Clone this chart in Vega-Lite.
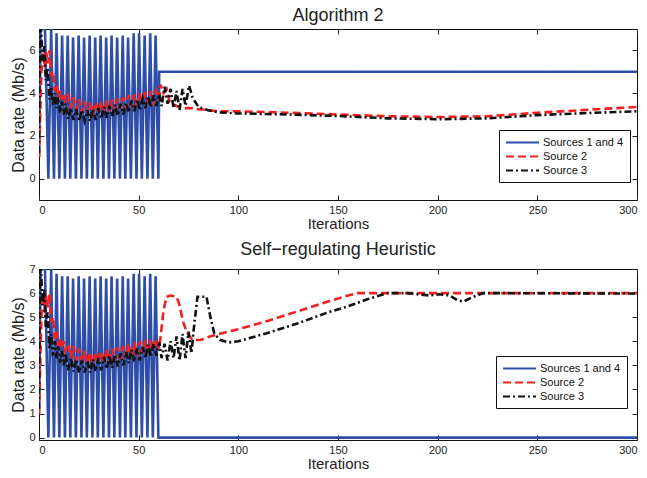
{
"$schema": "https://vega.github.io/schema/vega-lite/v6.json",
"background": "white",
"padding": {"left": 10, "top": 6, "right": 5, "bottom": 5},
"spacing": 8,
"resolve": {"legend": {"color": "independent", "strokeDash": "independent"}},
"config": {
  "view": {"stroke": "#111", "strokeWidth": 1},
  "font": "Liberation Sans",
  "axis": {"labelFont": "Liberation Sans", "titleFont": "Liberation Sans", "labelFontSize": 11, "titleFontSize": 15, "titleFontWeight": "normal", "labelColor": "#222", "titleColor": "#222", "tickColor": "#222", "grid": false}
},
"datasets": {
"top": [
{"s":"Sources 1 and 4","x":0,"y":1.0},{"s":"Sources 1 and 4","x":0.8,"y":7.0},{"s":"Sources 1 and 4","x":3.0,"y":7.0},{"s":"Sources 1 and 4","x":4.7,"y":0},{"s":"Sources 1 and 4","x":6.1,"y":7.0},{"s":"Sources 1 and 4","x":7.5,"y":0},{"s":"Sources 1 and 4","x":8.8,"y":6.8},{"s":"Sources 1 and 4","x":10.2,"y":0},{"s":"Sources 1 and 4","x":11.6,"y":6.7},{"s":"Sources 1 and 4","x":13.0,"y":0},{"s":"Sources 1 and 4","x":14.4,"y":6.7},{"s":"Sources 1 and 4","x":15.7,"y":0},{"s":"Sources 1 and 4","x":17.1,"y":6.6},{"s":"Sources 1 and 4","x":18.5,"y":0},{"s":"Sources 1 and 4","x":19.9,"y":6.7},{"s":"Sources 1 and 4","x":21.3,"y":0},{"s":"Sources 1 and 4","x":22.6,"y":6.6},{"s":"Sources 1 and 4","x":24.0,"y":0},{"s":"Sources 1 and 4","x":25.4,"y":6.7},{"s":"Sources 1 and 4","x":26.8,"y":0},{"s":"Sources 1 and 4","x":28.2,"y":6.6},{"s":"Sources 1 and 4","x":29.5,"y":0},{"s":"Sources 1 and 4","x":30.9,"y":6.7},{"s":"Sources 1 and 4","x":32.3,"y":0},{"s":"Sources 1 and 4","x":33.7,"y":6.6},{"s":"Sources 1 and 4","x":35.1,"y":0},{"s":"Sources 1 and 4","x":36.4,"y":6.7},{"s":"Sources 1 and 4","x":37.8,"y":0},{"s":"Sources 1 and 4","x":39.2,"y":6.6},{"s":"Sources 1 and 4","x":40.6,"y":0},{"s":"Sources 1 and 4","x":42.0,"y":6.7},{"s":"Sources 1 and 4","x":43.3,"y":0},{"s":"Sources 1 and 4","x":44.7,"y":6.6},{"s":"Sources 1 and 4","x":46.1,"y":0},{"s":"Sources 1 and 4","x":47.5,"y":6.8},{"s":"Sources 1 and 4","x":48.9,"y":0},{"s":"Sources 1 and 4","x":50.2,"y":6.8},{"s":"Sources 1 and 4","x":51.6,"y":0},{"s":"Sources 1 and 4","x":53.0,"y":6.7},{"s":"Sources 1 and 4","x":54.4,"y":0},{"s":"Sources 1 and 4","x":55.8,"y":6.8},{"s":"Sources 1 and 4","x":57.1,"y":0},{"s":"Sources 1 and 4","x":58.5,"y":6.7},{"s":"Sources 1 and 4","x":59.9,"y":0},{"s":"Sources 1 and 4","x":60.3,"y":5.0},{"s":"Sources 1 and 4","x":300,"y":5.0},
{"s":"Source 2","x":0,"y":1.0},{"s":"Source 2","x":0.6,"y":3.0},{"s":"Source 2","x":1.2,"y":5.0},{"s":"Source 2","x":2.0,"y":5.9},{"s":"Source 2","x":2.8,"y":5.2},{"s":"Source 2","x":3.6,"y":5.9},{"s":"Source 2","x":4.5,"y":5.4},{"s":"Source 2","x":5.3,"y":6.0},{"s":"Source 2","x":6.2,"y":4.8},{"s":"Source 2","x":7.0,"y":5.0},{"s":"Source 2","x":7.9,"y":4.1},{"s":"Source 2","x":8.8,"y":4.4},{"s":"Source 2","x":9.7,"y":3.8},{"s":"Source 2","x":10.5,"y":4.1},{"s":"Source 2","x":11.4,"y":3.7},{"s":"Source 2","x":12.3,"y":4.0},{"s":"Source 2","x":13.2,"y":3.6},{"s":"Source 2","x":14.6,"y":3.9},{"s":"Source 2","x":16.0,"y":3.3},{"s":"Source 2","x":17.3,"y":3.8},{"s":"Source 2","x":18.7,"y":3.2},{"s":"Source 2","x":20.1,"y":3.7},{"s":"Source 2","x":21.5,"y":3.1},{"s":"Source 2","x":22.9,"y":3.6},{"s":"Source 2","x":24.3,"y":3.05},{"s":"Source 2","x":25.6,"y":3.55},{"s":"Source 2","x":27.0,"y":3.05},{"s":"Source 2","x":28.4,"y":3.55},{"s":"Source 2","x":29.8,"y":3.1},{"s":"Source 2","x":31.2,"y":3.6},{"s":"Source 2","x":32.6,"y":3.1},{"s":"Source 2","x":34.0,"y":3.65},{"s":"Source 2","x":35.3,"y":3.15},{"s":"Source 2","x":36.7,"y":3.7},{"s":"Source 2","x":38.1,"y":3.2},{"s":"Source 2","x":39.5,"y":3.75},{"s":"Source 2","x":40.9,"y":3.25},{"s":"Source 2","x":42.3,"y":3.8},{"s":"Source 2","x":43.7,"y":3.3},{"s":"Source 2","x":45.0,"y":3.9},{"s":"Source 2","x":46.4,"y":3.35},{"s":"Source 2","x":47.8,"y":3.95},{"s":"Source 2","x":49.2,"y":3.4},{"s":"Source 2","x":50.6,"y":4.0},{"s":"Source 2","x":52.0,"y":3.5},{"s":"Source 2","x":53.4,"y":4.05},{"s":"Source 2","x":54.7,"y":3.55},{"s":"Source 2","x":56.1,"y":4.1},{"s":"Source 2","x":57.5,"y":3.6},{"s":"Source 2","x":58.9,"y":4.1},{"s":"Source 2","x":60.3,"y":3.7},{"s":"Source 2","x":61.0,"y":4.4},{"s":"Source 2","x":62.5,"y":4.0},{"s":"Source 2","x":64,"y":4.2},{"s":"Source 2","x":65.5,"y":3.6},{"s":"Source 2","x":67,"y":3.5},{"s":"Source 2","x":69,"y":3.4},{"s":"Source 2","x":72,"y":3.3},{"s":"Source 2","x":76,"y":3.3},{"s":"Source 2","x":80,"y":3.25},{"s":"Source 2","x":90,"y":3.15},{"s":"Source 2","x":100,"y":3.15},{"s":"Source 2","x":120,"y":3.1},{"s":"Source 2","x":150,"y":3.0},{"s":"Source 2","x":175,"y":2.92},{"s":"Source 2","x":200,"y":2.88},{"s":"Source 2","x":225,"y":2.92},{"s":"Source 2","x":250,"y":3.08},{"s":"Source 2","x":275,"y":3.22},{"s":"Source 2","x":300,"y":3.35},
{"s":"Source 3","x":0,"y":1.2},{"s":"Source 3","x":0.4,"y":6.9},{"s":"Source 3","x":1.0,"y":7.0},{"s":"Source 3","x":1.8,"y":5.5},{"s":"Source 3","x":2.6,"y":6.2},{"s":"Source 3","x":3.4,"y":4.6},{"s":"Source 3","x":4.3,"y":5.2},{"s":"Source 3","x":5.2,"y":3.7},{"s":"Source 3","x":6.1,"y":4.3},{"s":"Source 3","x":7.0,"y":3.4},{"s":"Source 3","x":7.9,"y":4.0},{"s":"Source 3","x":8.8,"y":3.3},{"s":"Source 3","x":9.7,"y":3.8},{"s":"Source 3","x":10.6,"y":3.1},{"s":"Source 3","x":11.5,"y":3.6},{"s":"Source 3","x":12.4,"y":3.0},{"s":"Source 3","x":13.3,"y":3.5},{"s":"Source 3","x":14.6,"y":2.8},{"s":"Source 3","x":16.0,"y":3.3},{"s":"Source 3","x":17.3,"y":2.75},{"s":"Source 3","x":18.7,"y":3.25},{"s":"Source 3","x":20.1,"y":2.7},{"s":"Source 3","x":21.5,"y":3.2},{"s":"Source 3","x":22.9,"y":2.7},{"s":"Source 3","x":24.3,"y":3.2},{"s":"Source 3","x":25.6,"y":2.7},{"s":"Source 3","x":27.0,"y":3.25},{"s":"Source 3","x":28.4,"y":2.75},{"s":"Source 3","x":29.8,"y":3.3},{"s":"Source 3","x":31.2,"y":2.8},{"s":"Source 3","x":32.6,"y":3.35},{"s":"Source 3","x":34.0,"y":2.85},{"s":"Source 3","x":35.3,"y":3.4},{"s":"Source 3","x":36.7,"y":2.9},{"s":"Source 3","x":38.1,"y":3.45},{"s":"Source 3","x":39.5,"y":2.95},{"s":"Source 3","x":40.9,"y":3.5},{"s":"Source 3","x":42.3,"y":3.0},{"s":"Source 3","x":43.7,"y":3.55},{"s":"Source 3","x":45.0,"y":3.1},{"s":"Source 3","x":46.4,"y":3.65},{"s":"Source 3","x":47.8,"y":3.15},{"s":"Source 3","x":49.2,"y":3.7},{"s":"Source 3","x":50.6,"y":3.2},{"s":"Source 3","x":52.0,"y":3.75},{"s":"Source 3","x":53.4,"y":3.3},{"s":"Source 3","x":54.7,"y":3.85},{"s":"Source 3","x":56.1,"y":3.35},{"s":"Source 3","x":57.5,"y":3.9},{"s":"Source 3","x":58.9,"y":3.4},{"s":"Source 3","x":60.3,"y":3.95},{"s":"Source 3","x":61.5,"y":3.4},{"s":"Source 3","x":63,"y":4.3},{"s":"Source 3","x":64.5,"y":3.5},{"s":"Source 3","x":66,"y":4.2},{"s":"Source 3","x":67.5,"y":3.3},{"s":"Source 3","x":69,"y":4.1},{"s":"Source 3","x":70.5,"y":3.2},{"s":"Source 3","x":72,"y":4.2},{"s":"Source 3","x":73.5,"y":3.4},{"s":"Source 3","x":75.3,"y":4.35},{"s":"Source 3","x":77,"y":3.8},{"s":"Source 3","x":80,"y":3.35},{"s":"Source 3","x":85,"y":3.2},{"s":"Source 3","x":90,"y":3.1},{"s":"Source 3","x":100,"y":3.05},{"s":"Source 3","x":125,"y":3.0},{"s":"Source 3","x":150,"y":2.93},{"s":"Source 3","x":175,"y":2.82},{"s":"Source 3","x":200,"y":2.78},{"s":"Source 3","x":225,"y":2.82},{"s":"Source 3","x":250,"y":2.97},{"s":"Source 3","x":275,"y":3.07},{"s":"Source 3","x":300,"y":3.15}
],
"bot": [
{"s":"Sources 1 and 4","x":0,"y":1.0},{"s":"Sources 1 and 4","x":0.8,"y":7.0},{"s":"Sources 1 and 4","x":3.0,"y":7.0},{"s":"Sources 1 and 4","x":4.7,"y":0},{"s":"Sources 1 and 4","x":6.1,"y":7.0},{"s":"Sources 1 and 4","x":7.5,"y":0},{"s":"Sources 1 and 4","x":8.8,"y":6.8},{"s":"Sources 1 and 4","x":10.2,"y":0},{"s":"Sources 1 and 4","x":11.6,"y":6.7},{"s":"Sources 1 and 4","x":13.0,"y":0},{"s":"Sources 1 and 4","x":14.4,"y":6.7},{"s":"Sources 1 and 4","x":15.7,"y":0},{"s":"Sources 1 and 4","x":17.1,"y":6.6},{"s":"Sources 1 and 4","x":18.5,"y":0},{"s":"Sources 1 and 4","x":19.9,"y":6.7},{"s":"Sources 1 and 4","x":21.3,"y":0},{"s":"Sources 1 and 4","x":22.6,"y":6.6},{"s":"Sources 1 and 4","x":24.0,"y":0},{"s":"Sources 1 and 4","x":25.4,"y":6.7},{"s":"Sources 1 and 4","x":26.8,"y":0},{"s":"Sources 1 and 4","x":28.2,"y":6.6},{"s":"Sources 1 and 4","x":29.5,"y":0},{"s":"Sources 1 and 4","x":30.9,"y":6.7},{"s":"Sources 1 and 4","x":32.3,"y":0},{"s":"Sources 1 and 4","x":33.7,"y":6.6},{"s":"Sources 1 and 4","x":35.1,"y":0},{"s":"Sources 1 and 4","x":36.4,"y":6.7},{"s":"Sources 1 and 4","x":37.8,"y":0},{"s":"Sources 1 and 4","x":39.2,"y":6.6},{"s":"Sources 1 and 4","x":40.6,"y":0},{"s":"Sources 1 and 4","x":42.0,"y":6.7},{"s":"Sources 1 and 4","x":43.3,"y":0},{"s":"Sources 1 and 4","x":44.7,"y":6.6},{"s":"Sources 1 and 4","x":46.1,"y":0},{"s":"Sources 1 and 4","x":47.5,"y":6.8},{"s":"Sources 1 and 4","x":48.9,"y":0},{"s":"Sources 1 and 4","x":50.2,"y":6.8},{"s":"Sources 1 and 4","x":51.6,"y":0},{"s":"Sources 1 and 4","x":53.0,"y":6.7},{"s":"Sources 1 and 4","x":54.4,"y":0},{"s":"Sources 1 and 4","x":55.8,"y":6.8},{"s":"Sources 1 and 4","x":57.1,"y":0},{"s":"Sources 1 and 4","x":58.5,"y":6.7},{"s":"Sources 1 and 4","x":59.9,"y":0},{"s":"Sources 1 and 4","x":300,"y":0},
{"s":"Source 2","x":0,"y":1.0},{"s":"Source 2","x":0.6,"y":3.0},{"s":"Source 2","x":1.2,"y":5.0},{"s":"Source 2","x":2.0,"y":5.9},{"s":"Source 2","x":2.8,"y":5.2},{"s":"Source 2","x":3.6,"y":5.9},{"s":"Source 2","x":4.5,"y":5.4},{"s":"Source 2","x":5.3,"y":6.0},{"s":"Source 2","x":6.2,"y":4.8},{"s":"Source 2","x":7.0,"y":5.0},{"s":"Source 2","x":7.9,"y":4.1},{"s":"Source 2","x":8.8,"y":4.4},{"s":"Source 2","x":9.7,"y":3.8},{"s":"Source 2","x":10.5,"y":4.1},{"s":"Source 2","x":11.4,"y":3.7},{"s":"Source 2","x":12.3,"y":4.0},{"s":"Source 2","x":13.2,"y":3.6},{"s":"Source 2","x":14.6,"y":3.9},{"s":"Source 2","x":16.0,"y":3.3},{"s":"Source 2","x":17.3,"y":3.8},{"s":"Source 2","x":18.7,"y":3.2},{"s":"Source 2","x":20.1,"y":3.7},{"s":"Source 2","x":21.5,"y":3.1},{"s":"Source 2","x":22.9,"y":3.6},{"s":"Source 2","x":24.3,"y":3.05},{"s":"Source 2","x":25.6,"y":3.55},{"s":"Source 2","x":27.0,"y":3.05},{"s":"Source 2","x":28.4,"y":3.55},{"s":"Source 2","x":29.8,"y":3.1},{"s":"Source 2","x":31.2,"y":3.6},{"s":"Source 2","x":32.6,"y":3.1},{"s":"Source 2","x":34.0,"y":3.65},{"s":"Source 2","x":35.3,"y":3.15},{"s":"Source 2","x":36.7,"y":3.7},{"s":"Source 2","x":38.1,"y":3.2},{"s":"Source 2","x":39.5,"y":3.75},{"s":"Source 2","x":40.9,"y":3.25},{"s":"Source 2","x":42.3,"y":3.8},{"s":"Source 2","x":43.7,"y":3.3},{"s":"Source 2","x":45.0,"y":3.9},{"s":"Source 2","x":46.4,"y":3.35},{"s":"Source 2","x":47.8,"y":3.95},{"s":"Source 2","x":49.2,"y":3.4},{"s":"Source 2","x":50.6,"y":4.0},{"s":"Source 2","x":52.0,"y":3.5},{"s":"Source 2","x":53.4,"y":4.05},{"s":"Source 2","x":54.7,"y":3.55},{"s":"Source 2","x":56.1,"y":4.1},{"s":"Source 2","x":57.5,"y":3.6},{"s":"Source 2","x":58.9,"y":4.1},{"s":"Source 2","x":60.3,"y":3.7},{"s":"Source 2","x":61.0,"y":4.2},{"s":"Source 2","x":62.5,"y":5.3},{"s":"Source 2","x":64,"y":5.85},{"s":"Source 2","x":66,"y":5.9},{"s":"Source 2","x":69,"y":5.85},{"s":"Source 2","x":70.5,"y":5.5},{"s":"Source 2","x":72,"y":4.9},{"s":"Source 2","x":74,"y":4.4},{"s":"Source 2","x":76,"y":4.15},{"s":"Source 2","x":78,"y":4.05},{"s":"Source 2","x":81,"y":4.05},{"s":"Source 2","x":84,"y":4.15},{"s":"Source 2","x":90,"y":4.3},{"s":"Source 2","x":100,"y":4.5},{"s":"Source 2","x":115,"y":4.85},{"s":"Source 2","x":130,"y":5.25},{"s":"Source 2","x":145,"y":5.65},{"s":"Source 2","x":155,"y":5.9},{"s":"Source 2","x":160,"y":6.0},{"s":"Source 2","x":300,"y":6.0},
{"s":"Source 3","x":0,"y":1.2},{"s":"Source 3","x":0.4,"y":6.9},{"s":"Source 3","x":1.0,"y":7.0},{"s":"Source 3","x":1.8,"y":5.5},{"s":"Source 3","x":2.6,"y":6.2},{"s":"Source 3","x":3.4,"y":4.6},{"s":"Source 3","x":4.3,"y":5.2},{"s":"Source 3","x":5.2,"y":3.7},{"s":"Source 3","x":6.1,"y":4.3},{"s":"Source 3","x":7.0,"y":3.4},{"s":"Source 3","x":7.9,"y":4.0},{"s":"Source 3","x":8.8,"y":3.3},{"s":"Source 3","x":9.7,"y":3.8},{"s":"Source 3","x":10.6,"y":3.1},{"s":"Source 3","x":11.5,"y":3.6},{"s":"Source 3","x":12.4,"y":3.0},{"s":"Source 3","x":13.3,"y":3.5},{"s":"Source 3","x":14.6,"y":2.8},{"s":"Source 3","x":16.0,"y":3.3},{"s":"Source 3","x":17.3,"y":2.75},{"s":"Source 3","x":18.7,"y":3.25},{"s":"Source 3","x":20.1,"y":2.7},{"s":"Source 3","x":21.5,"y":3.2},{"s":"Source 3","x":22.9,"y":2.7},{"s":"Source 3","x":24.3,"y":3.2},{"s":"Source 3","x":25.6,"y":2.7},{"s":"Source 3","x":27.0,"y":3.25},{"s":"Source 3","x":28.4,"y":2.75},{"s":"Source 3","x":29.8,"y":3.3},{"s":"Source 3","x":31.2,"y":2.8},{"s":"Source 3","x":32.6,"y":3.35},{"s":"Source 3","x":34.0,"y":2.85},{"s":"Source 3","x":35.3,"y":3.4},{"s":"Source 3","x":36.7,"y":2.9},{"s":"Source 3","x":38.1,"y":3.45},{"s":"Source 3","x":39.5,"y":2.95},{"s":"Source 3","x":40.9,"y":3.5},{"s":"Source 3","x":42.3,"y":3.0},{"s":"Source 3","x":43.7,"y":3.55},{"s":"Source 3","x":45.0,"y":3.1},{"s":"Source 3","x":46.4,"y":3.65},{"s":"Source 3","x":47.8,"y":3.15},{"s":"Source 3","x":49.2,"y":3.7},{"s":"Source 3","x":50.6,"y":3.2},{"s":"Source 3","x":52.0,"y":3.75},{"s":"Source 3","x":53.4,"y":3.3},{"s":"Source 3","x":54.7,"y":3.85},{"s":"Source 3","x":56.1,"y":3.35},{"s":"Source 3","x":57.5,"y":3.9},{"s":"Source 3","x":58.9,"y":3.4},{"s":"Source 3","x":60.3,"y":3.95},{"s":"Source 3","x":61.5,"y":3.3},{"s":"Source 3","x":63,"y":3.9},{"s":"Source 3","x":64.5,"y":3.2},{"s":"Source 3","x":66,"y":4.0},{"s":"Source 3","x":67.5,"y":3.3},{"s":"Source 3","x":69,"y":4.2},{"s":"Source 3","x":70.5,"y":3.2},{"s":"Source 3","x":72,"y":4.3},{"s":"Source 3","x":73.5,"y":3.3},{"s":"Source 3","x":75,"y":4.4},{"s":"Source 3","x":76.5,"y":3.5},{"s":"Source 3","x":77.5,"y":4.4},{"s":"Source 3","x":79.5,"y":5.85},{"s":"Source 3","x":84,"y":5.85},{"s":"Source 3","x":86,"y":5.0},{"s":"Source 3","x":88,"y":4.3},{"s":"Source 3","x":91,"y":4.05},{"s":"Source 3","x":95,"y":3.95},{"s":"Source 3","x":100,"y":4.0},{"s":"Source 3","x":115,"y":4.35},{"s":"Source 3","x":130,"y":4.75},{"s":"Source 3","x":145,"y":5.2},{"s":"Source 3","x":155,"y":5.45},{"s":"Source 3","x":165,"y":5.75},{"s":"Source 3","x":175,"y":6.0},{"s":"Source 3","x":185,"y":6.0},{"s":"Source 3","x":190,"y":5.95},{"s":"Source 3","x":196,"y":5.9},{"s":"Source 3","x":201,"y":5.95},{"s":"Source 3","x":206,"y":5.9},{"s":"Source 3","x":210,"y":5.7},{"s":"Source 3","x":213,"y":5.65},{"s":"Source 3","x":218,"y":5.85},{"s":"Source 3","x":223,"y":6.0},{"s":"Source 3","x":300,"y":5.98}
]
},
"vconcat": [
{
  "width": 598, "height": 171,
  "title": {"text": "Algorithm 2", "fontSize": 18, "font": "Liberation Sans", "fontWeight": "normal", "anchor": "middle", "color": "#222", "offset": 4},
  "data": {"name": "top"},
  "resolve": {"axis": {"x": "independent", "y": "independent"}},
  "layer": [
    {"mark": {"type": "line", "strokeWidth": 2.6, "clip": true},
     "encoding": {
       "x": {"field": "x", "type": "quantitative", "scale": {"domain": [0, 300], "nice": false, "zero": false},
             "axis": {"orient": "bottom", "values": [0,50,100,150,200,250,300], "ticks": false, "tickSize": 0, "domain": false, "labelPadding": 4, "title": "Iterations", "titlePadding": 1}},
       "y": {"field": "y", "type": "quantitative", "scale": {"domain": [-1, 7], "nice": false, "zero": false},
             "axis": {"orient": "left", "values": [0,2,4,6], "ticks": false, "tickSize": 0, "domain": false, "labelPadding": 4, "title": "Data rate (Mb/s)", "titleFontSize": 16, "titlePadding": 2}},
       "color": {"field": "s", "type": "nominal", "scale": {"domain": ["Sources 1 and 4", "Source 2", "Source 3"], "range": ["#2f4ea8", "#f51f1f", "#111111"]},
                 "legend": {"orient": "none", "legendX": 460, "legendY": 101, "title": null, "symbolType": "M-1,0H5", "symbolSize": 121, "symbolStrokeWidth": 2, "labelFontSize": 11, "labelFont": "Liberation Sans", "labelColor": "#111", "labelOffset": 25, "padding": 6, "rowPadding": 2, "strokeColor": "#111", "fillColor": "white", "cornerRadius": 0}},
       "strokeDash": {"field": "s", "type": "nominal", "scale": {"domain": ["Sources 1 and 4", "Source 2", "Source 3"], "range": [[1,0],[8,4],[7,3,2,3]]},
                 "legend": {"orient": "none", "legendX": 460, "legendY": 101, "title": null, "symbolType": "M-1,0H5", "symbolSize": 121, "symbolStrokeWidth": 2, "labelFontSize": 11, "labelFont": "Liberation Sans", "labelColor": "#111", "labelOffset": 25, "padding": 6, "rowPadding": 2, "strokeColor": "#111", "fillColor": "white", "cornerRadius": 0}}
     }},
    {"mark": {"type": "point", "opacity": 0, "size": 1, "clip": true},
     "encoding": {
       "x": {"field": "x", "type": "quantitative", "scale": {"domain": [0, 300], "nice": false, "zero": false},
             "axis": {"orient": "bottom", "offset": -5, "tickSize": 5, "labels": false, "domain": false, "title": null, "values": [0,50,100,150,200,250,300]}},
       "y": {"field": "y", "type": "quantitative", "scale": {"domain": [-1, 7], "nice": false, "zero": false},
             "axis": {"orient": "left", "offset": -5, "tickSize": 5, "labels": false, "domain": false, "title": null, "values": [0,2,4,6]}}
     }},
    {"mark": {"type": "point", "opacity": 0, "size": 1, "clip": true},
     "encoding": {
       "x": {"field": "x", "type": "quantitative", "scale": {"domain": [0, 300], "nice": false, "zero": false},
             "axis": {"orient": "top", "offset": -5, "tickSize": 5, "labels": false, "domain": false, "title": null, "values": [0,50,100,150,200,250,300]}},
       "y": {"field": "y", "type": "quantitative", "scale": {"domain": [-1, 7], "nice": false, "zero": false},
             "axis": {"orient": "right", "offset": -5, "tickSize": 5, "labels": false, "domain": false, "title": null, "values": [0,2,4,6]}}
     }}
  ]
},
{
  "width": 598, "height": 171,
  "title": {"text": "Self−regulating Heuristic", "fontSize": 18, "font": "Liberation Sans", "fontWeight": "normal", "anchor": "middle", "color": "#222", "offset": 4},
  "data": {"name": "bot"},
  "resolve": {"axis": {"x": "independent", "y": "independent"}},
  "layer": [
    {"mark": {"type": "line", "strokeWidth": 2.6, "clip": true},
     "encoding": {
       "x": {"field": "x", "type": "quantitative", "scale": {"domain": [0, 300], "nice": false, "zero": false},
             "axis": {"orient": "bottom", "values": [0,50,100,150,200,250,300], "ticks": false, "tickSize": 0, "domain": false, "labelPadding": 4, "title": "Iterations", "titlePadding": 1}},
       "y": {"field": "y", "type": "quantitative", "scale": {"domain": [-0.1, 7], "nice": false, "zero": false},
             "axis": {"orient": "left", "values": [0,1,2,3,4,5,6,7], "ticks": false, "tickSize": 0, "domain": false, "labelPadding": 4, "title": "Data rate (Mb/s)", "titleFontSize": 16, "titlePadding": 2}},
       "color": {"field": "s", "type": "nominal", "scale": {"domain": ["Sources 1 and 4", "Source 2", "Source 3"], "range": ["#2f4ea8", "#f51f1f", "#111111"]},
                 "legend": {"orient": "none", "legendX": 457, "legendY": 87, "title": null, "symbolType": "M-1,0H5", "symbolSize": 121, "symbolStrokeWidth": 2, "labelFontSize": 11, "labelFont": "Liberation Sans", "labelColor": "#111", "labelOffset": 25, "padding": 6, "rowPadding": 2, "strokeColor": "#111", "fillColor": "white", "cornerRadius": 0}},
       "strokeDash": {"field": "s", "type": "nominal", "scale": {"domain": ["Sources 1 and 4", "Source 2", "Source 3"], "range": [[1,0],[8,4],[7,3,2,3]]},
                 "legend": {"orient": "none", "legendX": 457, "legendY": 87, "title": null, "symbolType": "M-1,0H5", "symbolSize": 121, "symbolStrokeWidth": 2, "labelFontSize": 11, "labelFont": "Liberation Sans", "labelColor": "#111", "labelOffset": 25, "padding": 6, "rowPadding": 2, "strokeColor": "#111", "fillColor": "white", "cornerRadius": 0}}
     }},
    {"mark": {"type": "point", "opacity": 0, "size": 1, "clip": true},
     "encoding": {
       "x": {"field": "x", "type": "quantitative", "scale": {"domain": [0, 300], "nice": false, "zero": false},
             "axis": {"orient": "bottom", "offset": -5, "tickSize": 5, "labels": false, "domain": false, "title": null, "values": [0,50,100,150,200,250,300]}},
       "y": {"field": "y", "type": "quantitative", "scale": {"domain": [-0.1, 7], "nice": false, "zero": false},
             "axis": {"orient": "left", "offset": -5, "tickSize": 5, "labels": false, "domain": false, "title": null, "values": [0,1,2,3,4,5,6,7]}}
     }},
    {"mark": {"type": "point", "opacity": 0, "size": 1, "clip": true},
     "encoding": {
       "x": {"field": "x", "type": "quantitative", "scale": {"domain": [0, 300], "nice": false, "zero": false},
             "axis": {"orient": "top", "offset": -5, "tickSize": 5, "labels": false, "domain": false, "title": null, "values": [0,50,100,150,200,250,300]}},
       "y": {"field": "y", "type": "quantitative", "scale": {"domain": [-0.1, 7], "nice": false, "zero": false},
             "axis": {"orient": "right", "offset": -5, "tickSize": 5, "labels": false, "domain": false, "title": null, "values": [0,1,2,3,4,5,6,7]}}
     }}
  ]
}
]
}
